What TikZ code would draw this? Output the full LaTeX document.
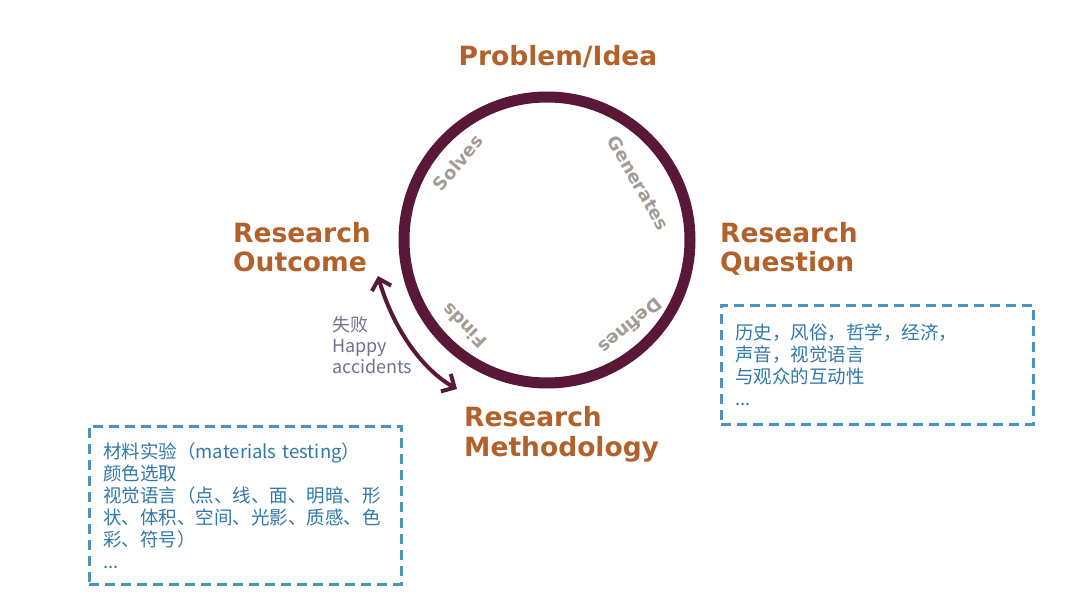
\documentclass[tikz,border=0pt]{standalone}
\usepackage{fontspec}
\setmainfont{DejaVu Sans}
\newfontfamily\cjk{Noto Sans CJK SC}
\usepackage{tikz}
\usetikzlibrary{arrows.meta, calc}
\definecolor{colorAnillo}{HTML}{5A1838}
\definecolor{colorTitulo}{HTML}{B2612A}
\definecolor{grisEtiqueta}{HTML}{A29C95}
\definecolor{azulCaja}{HTML}{4D93C0}
\definecolor{azulTexto}{HTML}{2F78AA}
\definecolor{grisAzul}{HTML}{6C7290}

\begin{document}
\begin{tikzpicture}[x=1pt, y=1pt,
        titulo/.style={colorTitulo, font=\bfseries\fontsize{26.5}{30}\selectfont, align=left, inner sep=0pt},
        etiqueta/.style={grisEtiqueta, font=\bfseries\fontsize{18}{20}\selectfont, inner sep=0pt},
        anillo/.style={circle, draw=colorAnillo, line width=11pt, minimum size=286pt, inner sep=0pt},
        caja/.style={azulTexto, draw=azulCaja, line width=2.6pt, dash pattern=on 10pt off 6pt, anchor=north west,
            inner xsep=14pt, inner ysep=0pt, align=left, font=\cjk\fontsize{18.5}{22}\selectfont},
        flecha/.style={{Straight Barb[length=10pt, width=20pt]}-{Straight Barb[length=10pt, width=20pt]},
            colorAnillo, line width=4pt, line cap=round, line join=round}
    ]
        \useasboundingbox (0,0) rectangle (1080,-599);

        \node[anillo] (ciclo) at (547,-240) {};

        \node[titulo, anchor=base] (prob) at (558,-66) {Problem/Idea};
        \node[titulo, anchor=base west] (outc) at (233,-272) {Research\\Outcome};
        \node[titulo, anchor=base west] (ques) at (720,-272) {Research\\Question};
        \node[titulo, anchor=base west] (meth) at (464,-456) {Research\\Methodology};

        \node[etiqueta, rotate=50] (solves) at ($(ciclo.center)+(139:118)$) {Solves};
        \node[etiqueta, rotate=-60] (gener) at ($(ciclo.center)+(32:108)$) {Generates};
        \node[etiqueta, rotate=-140] (defin) at ($(ciclo.center)+(-46:120)$) {Defines};
        \node[etiqueta, rotate=135] (finds) at ($(ciclo.center)+(-134:119)$) {Finds};

        \coordinate (puntaA) at (378,-276);
        \coordinate (puntaB) at (457,-389);
        \draw[flecha] (puntaA) .. controls (392,-325) and (420,-368) .. (puntaB);
        \node[grisAzul, font=\cjk\fontsize{18}{21}\selectfont, align=left, anchor=base west, inner sep=0pt] (fallo)
            at (332,-373) {失败\\Happy\\accidents};

        \node[caja, text width=284pt, minimum height=119pt] (cajaQ) at (720,-304)
            {历史，风俗，哲学，经济，\\声音，视觉语言\\与观众的互动性\\...};
        \node[caja, text width=284pt, minimum height=158pt] (cajaM) at (88,-425)
            {材料实验（materials testing）\\颜色选取\\视觉语言（点、线、面、明暗、形\\状、体积、空间、光影、质感、色\\彩、符号）\\...};
    \end{tikzpicture}
\end{document}
